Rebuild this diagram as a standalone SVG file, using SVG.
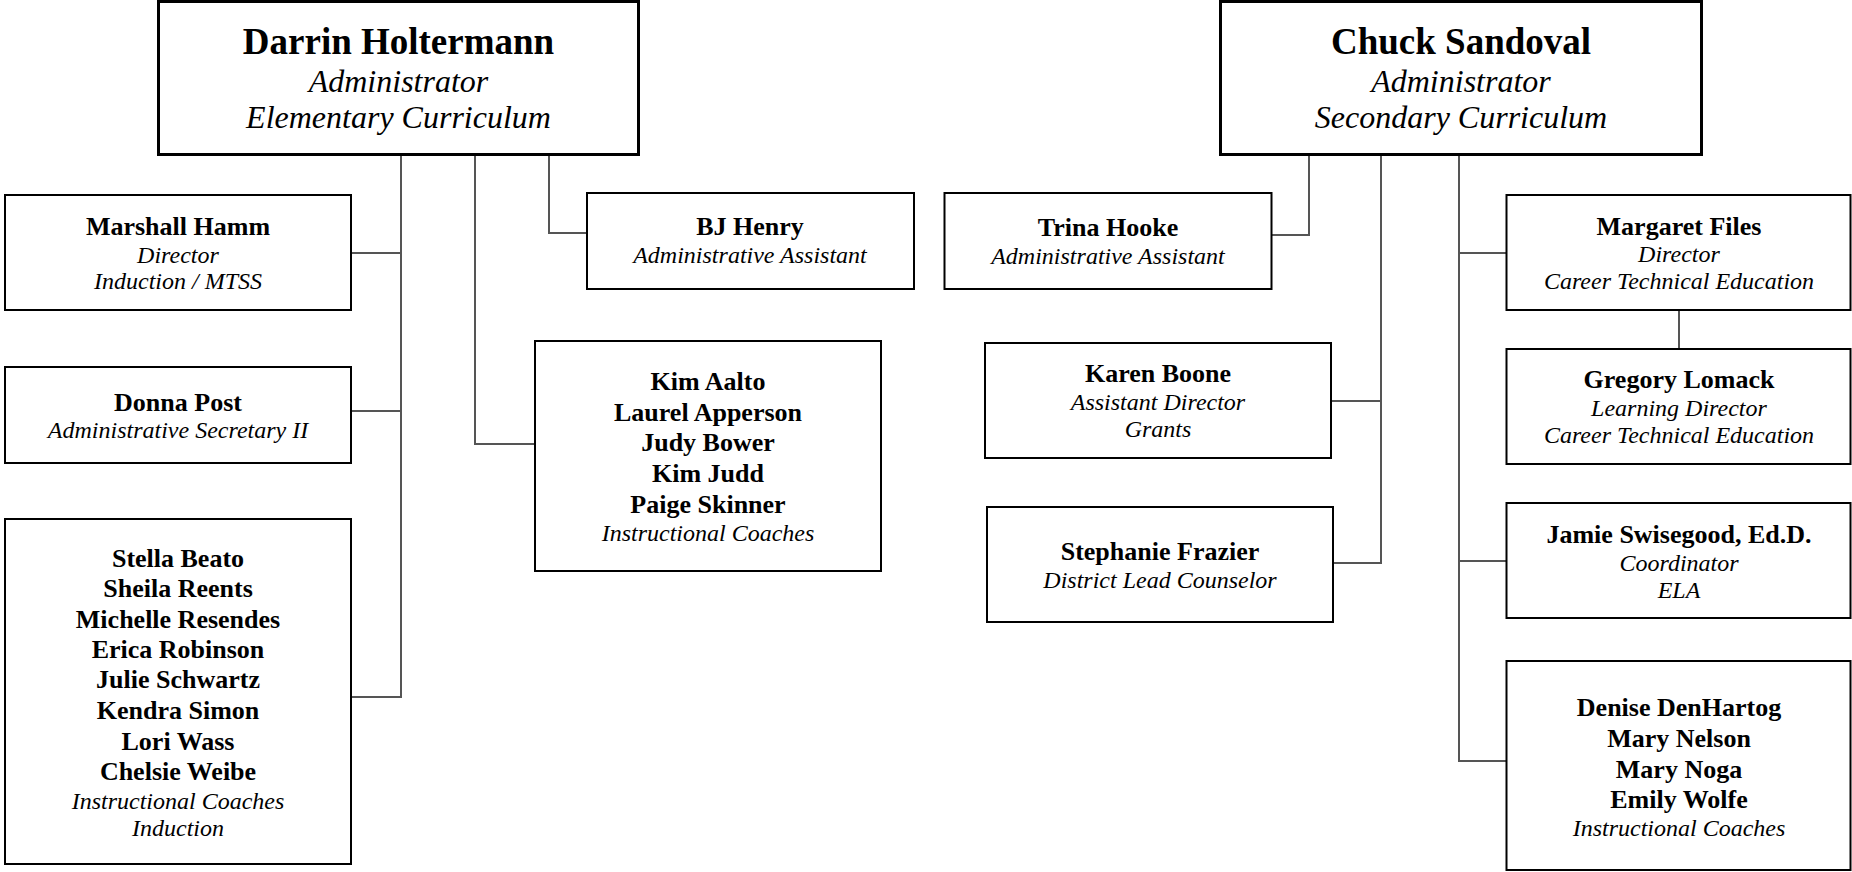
<svg xmlns="http://www.w3.org/2000/svg" width="1852" height="872" viewBox="0 0 1852 872">
<style>
.bg{fill:#fff}
.box{fill:#fff;stroke:#000;stroke-width:2}
.top{fill:#fff;stroke:#000;stroke-width:3}
.conn{fill:none;stroke:#555;stroke-width:2}
text{font-family:"Liberation Serif","Times New Roman",serif;text-anchor:middle;fill:#000}
.hn{font-size:37px;font-weight:bold}
.hs{font-size:32px;font-style:italic}
.n{font-size:26px;font-weight:bold}
.s{font-size:24px;font-style:italic}
</style>
<rect class="bg" x="0" y="0" width="1852" height="872"/>
<g id="connectors">
<path class="conn" d="M401,155 V697 H352"/>
<path class="conn" d="M401,253 H352"/>
<path class="conn" d="M401,411 H352"/>
<path class="conn" d="M475,155 V444 H535"/>
<path class="conn" d="M549,155 V233 H587"/>
<path class="conn" d="M1309,155 V235 H1272"/>
<path class="conn" d="M1381,155 V563 H1333"/>
<path class="conn" d="M1381,401 H1331"/>
<path class="conn" d="M1459,155 V761 H1506"/>
<path class="conn" d="M1459,253 H1506"/>
<path class="conn" d="M1459,561 H1506"/>
<path class="conn" d="M1679,310 V349"/>
</g>
<g id="darrin">
<rect class="top" x="158.5" y="1.5" width="480" height="153"/>
<text class="hn" x="398.5" y="54">Darrin Holtermann</text>
<text class="hs" x="398.5" y="92">Administrator</text>
<text class="hs" x="398.5" y="128">Elementary Curriculum</text>
</g>
<g id="chuck">
<rect class="top" x="1220.5" y="1.5" width="481" height="153"/>
<text class="hn" x="1461" y="54">Chuck Sandoval</text>
<text class="hs" x="1461" y="92">Administrator</text>
<text class="hs" x="1461" y="128">Secondary Curriculum</text>
</g>
<g id="marshall">
<rect class="box" x="5" y="195" width="346" height="115"/>
<text class="n" x="178" y="235">Marshall Hamm</text>
<text class="s" x="178" y="263">Director</text>
<text class="s" x="178" y="289">Induction / MTSS</text>
</g>
<g id="donna">
<rect class="box" x="5" y="367" width="346" height="96"/>
<text class="n" x="178" y="411">Donna Post</text>
<text class="s" x="178" y="438">Administrative Secretary II</text>
</g>
<g id="stella">
<rect class="box" x="5" y="519" width="346" height="345"/>
<text class="n" x="178" y="567">Stella Beato</text>
<text class="n" x="178" y="597">Sheila Reents</text>
<text class="n" x="178" y="628">Michelle Resendes</text>
<text class="n" x="178" y="658">Erica Robinson</text>
<text class="n" x="178" y="688">Julie Schwartz</text>
<text class="n" x="178" y="719">Kendra Simon</text>
<text class="n" x="178" y="750">Lori Wass</text>
<text class="n" x="178" y="780">Chelsie Weibe</text>
<text class="s" x="178" y="809">Instructional Coaches</text>
<text class="s" x="178" y="836">Induction</text>
</g>
<g id="bjhenry">
<rect class="box" x="587" y="193" width="327" height="96"/>
<text class="n" x="750" y="235">BJ Henry</text>
<text class="s" x="750" y="263">Administrative Assistant</text>
</g>
<g id="kimaalto">
<rect class="box" x="535" y="341" width="346" height="230"/>
<text class="n" x="708" y="390">Kim Aalto</text>
<text class="n" x="708" y="421">Laurel Apperson</text>
<text class="n" x="708" y="451">Judy Bower</text>
<text class="n" x="708" y="482">Kim Judd</text>
<text class="n" x="708" y="513">Paige Skinner</text>
<text class="s" x="708" y="541">Instructional Coaches</text>
</g>
<g id="trina">
<rect class="box" x="944.5" y="193" width="327" height="96"/>
<text class="n" x="1108" y="236">Trina Hooke</text>
<text class="s" x="1108" y="264">Administrative Assistant</text>
</g>
<g id="karen">
<rect class="box" x="985" y="343" width="346" height="115"/>
<text class="n" x="1158" y="382">Karen Boone</text>
<text class="s" x="1158" y="410">Assistant Director</text>
<text class="s" x="1158" y="437">Grants</text>
</g>
<g id="stephanie">
<rect class="box" x="987" y="507" width="346" height="115"/>
<text class="n" x="1160" y="560">Stephanie Frazier</text>
<text class="s" x="1160" y="588">District Lead Counselor</text>
</g>
<g id="margaret">
<rect class="box" x="1506.5" y="195" width="344" height="115"/>
<text class="n" x="1679" y="235">Margaret Files</text>
<text class="s" x="1679" y="262">Director</text>
<text class="s" x="1679" y="289">Career Technical Education</text>
</g>
<g id="gregory">
<rect class="box" x="1506.5" y="349" width="344" height="115"/>
<text class="n" x="1679" y="388">Gregory Lomack</text>
<text class="s" x="1679" y="416">Learning Director</text>
<text class="s" x="1679" y="443">Career Technical Education</text>
</g>
<g id="jamie">
<rect class="box" x="1506.5" y="503" width="344" height="115"/>
<text class="n" x="1679" y="543">Jamie Swisegood, Ed.D.</text>
<text class="s" x="1679" y="571">Coordinator</text>
<text class="s" x="1679" y="598">ELA</text>
</g>
<g id="denise">
<rect class="box" x="1506.5" y="661" width="344" height="209"/>
<text class="n" x="1679" y="716">Denise DenHartog</text>
<text class="n" x="1679" y="747">Mary Nelson</text>
<text class="n" x="1679" y="778">Mary Noga</text>
<text class="n" x="1679" y="808">Emily Wolfe</text>
<text class="s" x="1679" y="836">Instructional Coaches</text>
</g>
</svg>
